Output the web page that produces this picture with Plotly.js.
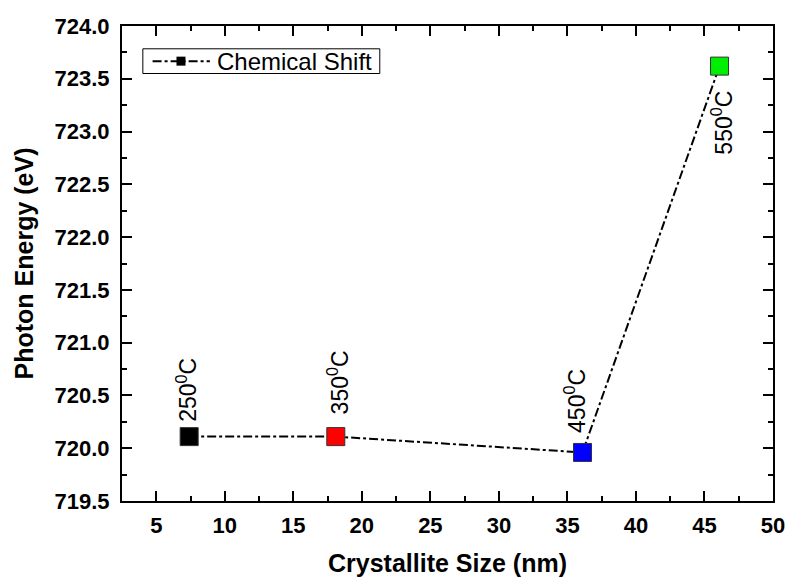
<!DOCTYPE html>
<html>
<head>
<meta charset="utf-8">
<script src="https://cdn.plot.ly/plotly-3.0.1.min.js"></script>
<style>
  html, body { margin: 0; padding: 0; background: #fff; }
  #chart { width: 787px; height: 577px; }
</style>
</head>
<body>
<div id="chart"></div>
<script>
// Crystallite size (nm) vs. photon energy (eV) at four annealing temperatures
const crystalliteSize = [7.4, 18.1, 36.1, 46.1];
const photonEnergy = [720.11, 720.11, 719.96, 723.62];
const markerColors = ['#000000', '#ff0000', '#0000ff', '#00ee00'];
const tempLabels = ['250<sup>0</sup>C', '350<sup>0</sup>C', '450<sup>0</sup>C', '550<sup>0</sup>C'];
const seriesName = 'Chemical Shift';

const FONT = 'Liberation Sans, Arial, sans-serif';

// Main series: dash-dot line through coloured square markers
const trace = {
  x: crystalliteSize,
  y: photonEnergy,
  type: 'scatter',
  mode: 'lines+markers',
  name: seriesName,
  showlegend: false,
  line: { color: '#000', width: 2, dash: 'dashdot' },
  marker: {
    symbol: 'square',
    size: 18,
    color: markerColors,
    line: { color: '#333', width: 1 }
  }
};

// Label placement (pixel shifts) for each temperature tag
const labelPlacement = [
  { dx: -3, dy: 13, below: false },
  { dx: 2, dy: 20, below: false },
  { dx: -7, dy: 17, below: false },
  { dx: 3, dy: -23, below: true }
];

const annotations = crystalliteSize.map((x, i) => {
  const p = labelPlacement[i];
  return {
    x: x, y: photonEnergy[i], xref: 'x', yref: 'y',
    text: tempLabels[i],
    showarrow: false,
    textangle: -90,
    font: { family: FONT, size: 23, color: '#000' },
    xanchor: 'center',
    yanchor: p.below ? 'top' : 'bottom',
    xshift: p.dx,
    yshift: p.dy
  };
});

// Compact legend box in the upper-left corner of the plot area
const legendBox = { x0: 0.032, x1: 0.396, y0: 0.900, y1: 0.952 };
const legendMid = (legendBox.y0 + legendBox.y1) / 2;
const legendShapes = [
  { type: 'rect', xref: 'paper', yref: 'paper',
    x0: legendBox.x0, x1: legendBox.x1, y0: legendBox.y0, y1: legendBox.y1,
    line: { color: '#000', width: 1 }, fillcolor: '#fff', layer: 'above' },
  { type: 'line', xref: 'paper', yref: 'paper',
    x0: 0.047, x1: 0.135, y0: legendMid, y1: legendMid,
    line: { color: '#000', width: 2, dash: 'dashdot' }, layer: 'above' },
  { type: 'rect', xref: 'paper', yref: 'paper',
    xsizemode: 'pixel', ysizemode: 'pixel', xanchor: 0.0906, yanchor: legendMid,
    x0: -4.5, x1: 4.5, y0: -4.5, y1: 4.5,
    line: { color: '#000', width: 0 }, fillcolor: '#000', layer: 'above' }
];
annotations.push({
  xref: 'paper', yref: 'paper', x: 0.143, y: legendMid,
  xanchor: 'left', yanchor: 'middle', showarrow: false,
  text: seriesName,
  font: { family: FONT, size: 24, color: '#000' }
});

const axisBase = {
  showline: true, linecolor: '#000', linewidth: 2,
  mirror: 'ticks', ticks: 'inside', ticklen: 10, tickwidth: 2, tickcolor: '#000',
  showgrid: false, zeroline: false,
  tickfont: { family: FONT, size: 22, color: '#000', weight: 'bold' }
};

const minorTicks = { ticks: 'inside', ticklen: 5, tickwidth: 2, tickcolor: '#000' };

const layout = {
  width: 787, height: 577,
  margin: { l: 122, r: 14, t: 26, b: 76 },
  paper_bgcolor: '#fff', plot_bgcolor: '#fff',
  showlegend: false,
  xaxis: Object.assign({}, axisBase, {
    range: [2.5, 50], tick0: 0, dtick: 5,
    ticklabelstandoff: 4,
    minor: Object.assign({ dtick: 2.5 }, minorTicks),
    title: { text: '<b>Crystallite Size (nm)</b>', font: { family: FONT, size: 25, color: '#000' }, standoff: 19 }
  }),
  yaxis: Object.assign({}, axisBase, {
    range: [719.5, 724.0], tick0: 719.5, dtick: 0.5, tickformat: '.1f',
    ticklabelstandoff: 6,
    minor: Object.assign({ dtick: 0.25 }, minorTicks),
    title: { text: '<b>Photon Energy (eV)</b>', font: { family: FONT, size: 25, color: '#000' }, standoff: 14 }
  }),
  shapes: legendShapes,
  annotations: annotations
};

Plotly.newPlot('chart', [trace], layout, { displayModeBar: false, staticPlot: true });
</script>
</body>
</html>
